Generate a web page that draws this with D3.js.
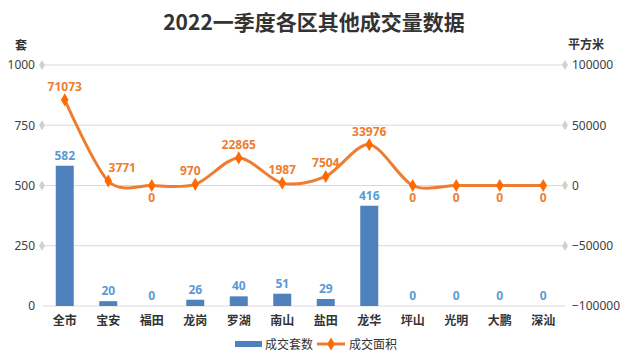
<!DOCTYPE html>
<html><head><meta charset="utf-8">
<script src="https://cdn.jsdelivr.net/npm/d3@7"></script>
<style>
body{margin:0;background:#fff;}
svg{font-family:"Noto Sans CJK SC","Noto Sans",sans-serif;}
</style></head><body>
<svg id="c" width="627" height="360"></svg>
<script>
const categories = ["全市","宝安","福田","龙岗","罗湖","南山","盐田","龙华","坪山","光明","大鹏","深汕"];
const units = [582,20,0,26,40,51,29,416,0,0,0,0];
const areas = [71073,3771,0,970,22865,1987,7504,33976,0,0,0,0];
const leftTicks = [0,250,500,750,1000];
const rightTicks = [-100000,-50000,0,50000,100000];
const title = "2022一季度各区其他成交量数据";
const seriesNames = ["成交套数","成交面积"];

const svg = d3.select("#c");
const L = 43, R = 565, T = 65, B = 306;
const x = d3.scaleBand().domain(categories).range([L,R]).paddingInner(0).paddingOuter(0);
const yL = d3.scaleLinear().domain([0,1000]).range([B,T]);
const yR = d3.scaleLinear().domain([-100000,100000]).range([B,T]);
const blue="#4F81BD", blueLab="#5B9BD5", orange="#ED7D31", mark="#FF6A00";

svg.append("text").attr("x",314).attr("y",30).attr("text-anchor","middle")
  .attr("font-size",21).attr("font-weight","bold").attr("fill","#333").text(title);
svg.append("text").attr("x",21).attr("y",50).attr("text-anchor","middle")
  .attr("font-size",12).attr("font-weight","bold").attr("fill","#333").text("套");
svg.append("text").attr("x",586).attr("y",49).attr("text-anchor","middle")
  .attr("font-size",12).attr("font-weight","bold").attr("fill","#333").text("平方米");

// gridlines
const g = svg.append("g");
leftTicks.forEach(t=>{
  g.append("line").attr("x1",L).attr("x2",R).attr("y1",yL(t)).attr("y2",yL(t))
   .attr("stroke","#d9d9d9").attr("stroke-width",1);
});
const diamond = d3.symbol().type(d3.symbolDiamond).size(30);
leftTicks.forEach(t=>{
  if(t!==0) g.append("path").attr("d",diamond).attr("transform",`translate(${L-1},${yL(t)})`).attr("fill","#d0d0d0");
});
rightTicks.forEach(t=>{
  if(t!==-100000) g.append("path").attr("d",diamond).attr("transform",`translate(${R},${yR(t)})`).attr("fill","#d0d0d0");
});
// axis labels
svg.append("g").attr("transform",`translate(${L-8},0)`)
  .call(d3.axisLeft(yL).tickValues(leftTicks).tickSize(0).tickPadding(0).tickFormat(d3.format("d")))
  .call(s=>{s.select(".domain").remove();s.selectAll("text").attr("font-size",12).attr("fill","#404040").attr("font-family","'Noto Sans',sans-serif");});
svg.append("g").attr("transform",`translate(${R+7},0)`)
  .call(d3.axisRight(yR).tickValues(rightTicks).tickSize(0).tickPadding(0).tickFormat(d3.format("d")))
  .call(s=>{s.select(".domain").remove();s.selectAll("text").attr("font-size",12).attr("fill","#404040").attr("font-family","'Noto Sans',sans-serif");});
svg.append("g").attr("transform",`translate(0,${B})`)
  .call(d3.axisBottom(x).tickSize(0).tickPadding(10))
  .call(s=>{s.select(".domain").remove();s.selectAll("text").attr("font-size",12).attr("font-weight","bold").attr("fill","#333").attr("font-family","'Noto Sans CJK SC',sans-serif");});

// bars
const bw = 18;
svg.append("g").selectAll("rect").data(units).join("rect")
  .attr("x",(d,i)=>x(categories[i])+x.bandwidth()/2-bw/2)
  .attr("width",bw).attr("y",d=>yL(d)).attr("height",d=>yL(0)-yL(d)).attr("fill",blue);
svg.append("g").selectAll("text").data(units).join("text")
  .attr("x",(d,i)=>x(categories[i])+x.bandwidth()/2)
  .attr("y",d=>yL(d)-6).attr("text-anchor","middle")
  .attr("font-size",12).attr("font-weight","bold").attr("fill",blueLab)
  .attr("font-family","'Noto Sans',sans-serif").text(d=>d);

// line
const cx = i=>x(categories[i])+x.bandwidth()/2;
const line = d3.line().x((d,i)=>cx(i)).y(d=>yR(d)).curve(d3.curveCardinal.tension(0.1));
svg.append("path").datum(areas).attr("d",line).attr("fill","none").attr("stroke",orange).attr("stroke-width",3);
const dm = d3.symbol().type(d3.symbolDiamond).size(50);
svg.append("g").selectAll("path").data(areas).join("path")
  .attr("d",dm).attr("transform",(d,i)=>`translate(${cx(i)},${yR(d)})`).attr("fill",mark);
svg.append("g").selectAll("text").data(areas).join("text")
  .attr("x",(d,i)=>cx(i)+(i===1?14:(i===3?-5:0)))
  .attr("y",d=>d===0?yR(d)+16:yR(d)-9).attr("text-anchor","middle")
  .attr("font-size",12).attr("font-weight","bold").attr("fill",orange)
  .attr("font-family","'Noto Sans',sans-serif").text(d=>d);

// legend
const lg = svg.append("g");
lg.append("rect").attr("x",235).attr("y",341).attr("width",27).attr("height",6).attr("fill",blue);
lg.append("text").attr("x",265).attr("y",349).attr("font-size",12).attr("fill","#333").text(seriesNames[0]);
lg.append("line").attr("x1",317).attr("x2",345).attr("y1",344).attr("y2",344).attr("stroke",orange).attr("stroke-width",3);
lg.append("path").attr("d",dm).attr("transform","translate(331,344)").attr("fill",mark);
lg.append("text").attr("x",349).attr("y",349).attr("font-size",12).attr("fill","#333").text(seriesNames[1]);
</script></body></html>
